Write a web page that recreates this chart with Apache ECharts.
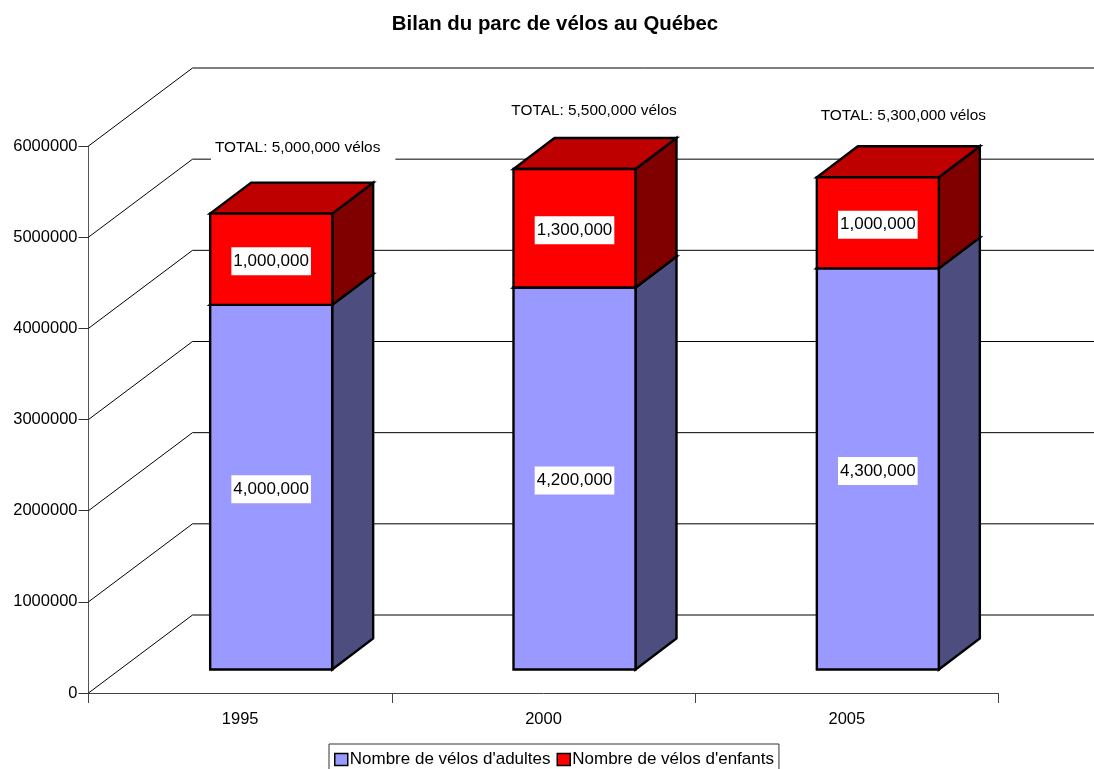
<!DOCTYPE html>
<html><head><meta charset="utf-8">
<style>html,body{margin:0;padding:0;background:#fff;overflow:hidden}#c{width:1094px;height:769px}</style>
<script src="https://cdn.jsdelivr.net/npm/echarts@6/dist/echarts.min.js"></script>
</head><body><div id="c"></div>
<script>
var titleText = "Bilan du parc de vélos au Québec";
var categories = ["1995", "2000", "2005"];
var adultName = "Nombre de vélos d'adultes";
var childName = "Nombre de vélos d'enfants";
// bar heights as drawn
var adultValues = [4000000, 4190000, 4400000];
var childValues = [1000000, 1300000, 1000000];
// labels as printed
var adultLabels = ["4,000,000", "4,200,000", "4,300,000"];
var childLabels = ["1,000,000", "1,300,000", "1,000,000"];
var totalLabels = ["TOTAL: 5,000,000 vélos", "TOTAL: 5,500,000 vélos", "TOTAL: 5,300,000 vélos"];
var gridValues = [0, 1000000, 2000000, 3000000, 4000000, 5000000, 6000000];

var FONT = '"Liberation Sans", Arial, sans-serif';
var W = 1094;
var WALL = [104, -78], FRONT = [31, -23.5], DEPTH = [41, -31], BAR_W = 122;
var TOTAL_SHIFT = [[32, -66], [25, -58], [31, -61]];

function poly(pts, fill) {
  return {type: 'polygon', shape: {points: pts},
    style: {fill: fill, stroke: '#000', lineWidth: 2.4, lineJoin: 'miter'}};
}
function boxRender(front, side, top, withTotal) {
  return function (params, api) {
    var i = api.value(0), lo = api.value(1), hi = api.value(2);
    var a = api.coord([i, lo]), b = api.coord([i, hi]);
    var x0 = a[0] - BAR_W / 2 + FRONT[0], x1 = x0 + BAR_W;
    var yb = a[1] + FRONT[1], yt = b[1] + FRONT[1];
    var dx = DEPTH[0], dy = DEPTH[1];
    var kids = [
      poly([[x1, yb], [x1 + dx, yb + dy], [x1 + dx, yt + dy], [x1, yt]], side),
      poly([[x0, yt], [x1, yt], [x1 + dx, yt + dy], [x0 + dx, yt + dy]], top),
      poly([[x0, yb], [x1, yb], [x1, yt], [x0, yt]], front)
    ];
    var txt = (withTotal ? childLabels : adultLabels)[i];
    kids.push({type: 'text', z2: 10, style: {
      text: txt, x: x0 + BAR_W / 2, y: (yb + yt) / 2 + 2, align: 'center', verticalAlign: 'middle',
      font: '17px ' + FONT, fill: '#000', backgroundColor: '#fff', padding: [6, 2, 5, 2]
    }});
    if (withTotal) {
      var s = TOTAL_SHIFT[i];
      kids.push({type: 'text', z2: 10, style: {
        text: totalLabels[i], x: x0 + BAR_W / 2 + s[0], y: yt + s[1], align: 'center', verticalAlign: 'middle',
        font: '15.4px ' + FONT, fill: '#000', backgroundColor: '#fff', padding: [6, 15, 6, 4]
      }});
    }
    return {type: 'group', children: kids};
  };
}
function gridRender(params, api) {
  var cs = params.coordSys;
  var y = api.coord([0, api.value(1)])[1];
  return {type: 'polyline', silent: true,
    shape: {points: [[cs.x, y], [cs.x + WALL[0], y + WALL[1]], [W, y + WALL[1]]]},
    style: {fill: 'none', stroke: '#000', lineWidth: 1}};
}
var chart = echarts.init(document.getElementById('c'), null, {renderer: 'canvas'});
chart.setOption({
  animation: false,
  backgroundColor: '#fff',
  title: {text: titleText, left: 550, top: 9, textAlign: 'center',
    textStyle: {fontFamily: FONT, fontSize: 20.4, fontWeight: 'bold', color: '#000'}},
  grid: {left: 88.5, top: 146, width: 910, height: 547},
  xAxis: {type: 'category', data: categories, boundaryGap: true,
    axisLine: {lineStyle: {color: '#444', width: 1}},
    axisTick: {show: true, length: 10, alignWithLabel: false, interval: 0, lineStyle: {color: '#444'}},
    axisLabel: {margin: 18, fontFamily: FONT, fontSize: 16.5, color: '#000', interval: 0},
    splitLine: {show: false}},
  yAxis: {type: 'value', min: 0, max: 6000000, interval: 1000000,
    axisLine: {show: true, lineStyle: {color: '#555', width: 1}},
    axisTick: {show: true, length: 10, lineStyle: {color: '#333'}},
    axisLabel: {margin: 11, fontFamily: FONT, fontSize: 16.5, color: '#000', padding: [2, 0, 0, 0],
      formatter: function (v) { return String(v); }},
    splitLine: {show: false}},
  legend: {show: true, left: 329, top: 744, padding: [7, 5, 7, 5], itemWidth: 13, itemHeight: 12, itemGap: 6,
    borderColor: '#333', borderWidth: 1, backgroundColor: '#fff', icon: 'rect', selectedMode: false,
    textStyle: {fontFamily: FONT, fontSize: 17, color: '#000', padding: [0, 0, 0, -3]},
    data: [
      {name: adultName, itemStyle: {color: '#9999FF', borderColor: '#000', borderWidth: 1.5}},
      {name: childName, itemStyle: {color: '#FF0000', borderColor: '#000', borderWidth: 1.5}}
    ]},
  series: [
    {type: 'custom', name: 'grid', silent: true, z: 1, renderItem: gridRender,
      encode: {x: 0, y: 1}, data: gridValues.map(function (v) { return [0, v]; })},
    {type: 'custom', name: adultName, z: 3, itemStyle: {color: '#9999FF'},
      renderItem: boxRender('#9999FF', '#4D4D80', '#7373BF', false), encode: {x: 0, y: [1, 2]},
      data: adultValues.map(function (v, i) { return [i, 0, v]; })},
    {type: 'custom', name: childName, z: 4, itemStyle: {color: '#FF0000'},
      renderItem: boxRender('#FF0000', '#800000', '#BF0000', true), encode: {x: 0, y: [1, 2]},
      data: childValues.map(function (v, i) { return [i, adultValues[i], adultValues[i] + v]; })}
  ]
});
</script></body></html>
